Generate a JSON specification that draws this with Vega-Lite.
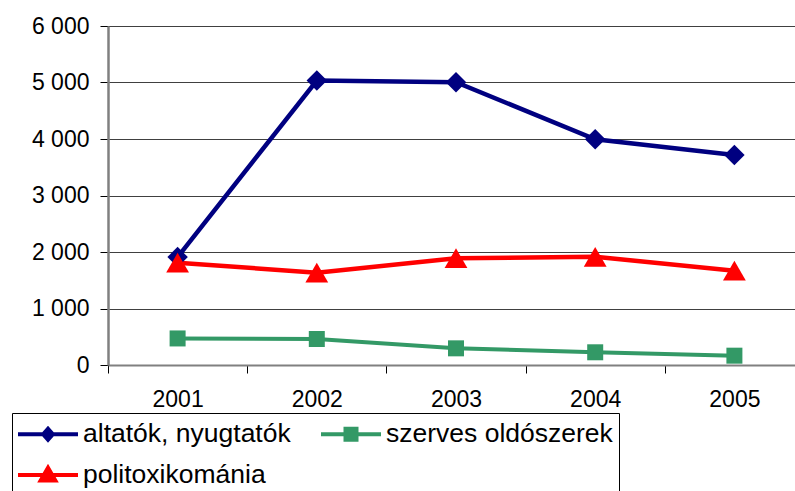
{
  "$schema": "https://vega.github.io/schema/vega-lite/v6.json",
  "width": 687,
  "height": 339,
  "autosize": {"type": "none"},
  "padding": {"left": 108, "top": 26, "right": 0, "bottom": 126},
  "background": "white",
  "config": {"view": {"stroke": null}, "font": "Liberation Sans"},
  "data": {
    "values": [
      {"year": "2001", "series": "altatók, nyugtatók", "value": 1910},
      {"year": "2002", "series": "altatók, nyugtatók", "value": 5035},
      {"year": "2003", "series": "altatók, nyugtatók", "value": 5005},
      {"year": "2004", "series": "altatók, nyugtatók", "value": 3995},
      {"year": "2005", "series": "altatók, nyugtatók", "value": 3715},
      {"year": "2001", "series": "szerves oldószerek", "value": 470},
      {"year": "2002", "series": "szerves oldószerek", "value": 460},
      {"year": "2003", "series": "szerves oldószerek", "value": 295},
      {"year": "2004", "series": "szerves oldószerek", "value": 225},
      {"year": "2005", "series": "szerves oldószerek", "value": 165},
      {"year": "2001", "series": "politoxikománia", "value": 1810},
      {"year": "2002", "series": "politoxikománia", "value": 1635},
      {"year": "2003", "series": "politoxikománia", "value": 1890},
      {"year": "2004", "series": "politoxikománia", "value": 1915},
      {"year": "2005", "series": "politoxikománia", "value": 1670}
    ]
  },
  "encoding": {
    "x": {
      "field": "year",
      "type": "ordinal",
      "scale": {"type": "band", "range": [0, 696], "paddingInner": 0, "paddingOuter": 0},
      "axis": {
        "title": null,
        "labelAngle": 0,
        "grid": false,
        "tickBand": "extent",
        "tickSize": 8,
        "tickColor": "black",
        "tickWidth": 1,
        "domainColor": "#808080",
        "domainWidth": 2,
        "labelFont": "Liberation Sans",
        "labelFontSize": 23,
        "labelColor": "black",
        "labelPadding": 15
      }
    },
    "y": {
      "field": "value",
      "type": "quantitative",
      "scale": {"domain": [0, 6000], "nice": false},
      "axis": {
        "title": null,
        "values": [0, 1000, 2000, 3000, 4000, 5000, 6000],
        "labelExpr": "replace(format(datum.value, ','), ',', ' ')",
        "tickSize": 8,
        "tickColor": "black",
        "tickWidth": 1,
        "domainColor": "#808080",
        "domainWidth": 2.5,
        "gridColor": "#404040",
        "gridWidth": 1.2,
        "labelFont": "Liberation Sans",
        "labelFontSize": 23,
        "labelColor": "black",
        "labelPadding": 11
      }
    }
  },
  "layer": [
    {
      "transform": [{"filter": "datum.series === 'altatók, nyugtatók'"}],
      "mark": {"type": "line", "color": "#000080", "strokeWidth": 4.5}
    },
    {
      "transform": [{"filter": "datum.series === 'szerves oldószerek'"}],
      "mark": {"type": "line", "color": "#339966", "strokeWidth": 4}
    },
    {
      "transform": [{"filter": "datum.series === 'politoxikománia'"}],
      "mark": {"type": "line", "color": "#FF0000", "strokeWidth": 4.5}
    },
    {
      "transform": [{"filter": "datum.series === 'altatók, nyugtatók'"}],
      "mark": {"type": "point", "shape": "diamond", "filled": true, "color": "#000080", "size": 420, "opacity": 1, "strokeWidth": 0}
    },
    {
      "transform": [{"filter": "datum.series === 'szerves oldószerek'"}],
      "mark": {"type": "point", "shape": "square", "filled": true, "color": "#339966", "size": 256, "opacity": 1, "strokeWidth": 0}
    },
    {
      "transform": [{"filter": "datum.series === 'politoxikománia'"}],
      "mark": {"type": "point", "shape": "triangle-up", "filled": true, "color": "#FF0000", "size": 520, "opacity": 1, "strokeWidth": 0}
    },
    {
      "mark": {"type": "point", "filled": true, "opacity": 0, "strokeWidth": 0},
      "encoding": {
        "color": {
          "field": "series",
          "type": "nominal",
          "scale": {
            "domain": ["altatók, nyugtatók", "politoxikománia", "szerves oldószerek"],
            "range": ["#000080", "#FF0000", "#339966"]
          },
          "legend": {
            "title": null, "orient": "none", "legendX": -96, "legendY": 387,
            "columns": 2, "columnPadding": 30, "rowPadding": 12, "padding": 6,
            "strokeColor": "black", "fillColor": "white",
            "labelFontSize": 26.5, "labelColor": "black", "labelOffset": 35, "labelLimit": 500,
            "symbolSize": 900, "symbolStrokeWidth": 0, "symbolOpacity": 1,
            "encode": {"symbols": {"update": {"opacity": {"value": 1}}}}
          }
        },
        "shape": {
          "field": "series",
          "type": "nominal",
          "scale": {
            "domain": ["altatók, nyugtatók", "politoxikománia", "szerves oldószerek"],
            "range": [
              "M-1,-0.14L3,-0.14L3,0.14L-1,0.14Z M1,-0.57L1.5,0L1,0.57L0.5,0Z",
              "M-1,-0.14L3,-0.14L3,0.14L-1,0.14Z M1,-0.75L1.72,0.5L0.28,0.5Z",
              "M-1,-0.14L3,-0.14L3,0.14L-1,0.14Z M0.5,-0.5L1.5,-0.5L1.5,0.5L0.5,0.5Z"
            ]
          },
          "legend": {
            "title": null, "orient": "none", "legendX": -96, "legendY": 387,
            "columns": 2, "columnPadding": 30, "rowPadding": 12, "padding": 6,
            "strokeColor": "black", "fillColor": "white",
            "labelFontSize": 26.5, "labelColor": "black", "labelOffset": 35, "labelLimit": 500,
            "symbolSize": 900, "symbolStrokeWidth": 0, "symbolOpacity": 1,
            "encode": {"symbols": {"update": {"opacity": {"value": 1}}}}
          }
        }
      }
    }
  ]
}
